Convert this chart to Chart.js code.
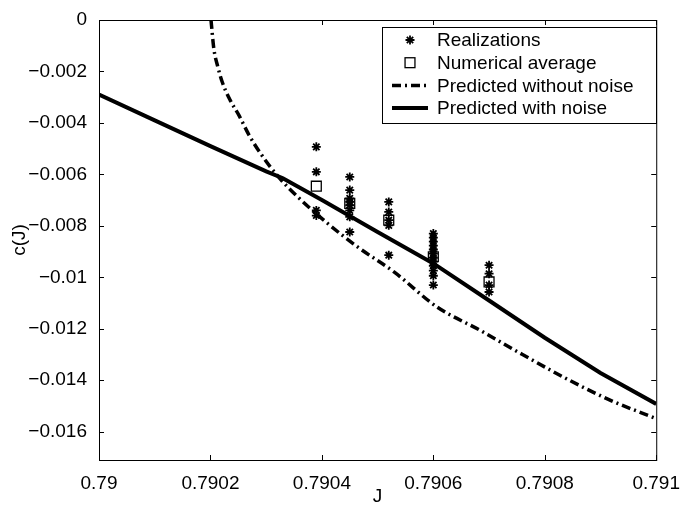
<!DOCTYPE html>
<html>
<head>
<meta charset="utf-8">
<script src="https://cdn.jsdelivr.net/npm/chart.js@4.4.1/dist/chart.umd.min.js"></script>
<style>
  html, body { margin: 0; padding: 0; background: #fff; }
  #wrap { width: 684px; height: 505px; }
</style>
</head>
<body>
<div id="wrap"><canvas id="cj" width="684" height="505"></canvas></div>
<script>
// realizations (stars)
var realJ = [0.79039, 0.79039, 0.79039, 0.79039,
             0.79045, 0.79045, 0.79045, 0.79045, 0.79045, 0.79045, 0.79045, 0.79045,
             0.79052, 0.79052, 0.79052, 0.79052, 0.79052,
             0.7906, 0.7906, 0.7906, 0.7906, 0.7906, 0.7906, 0.7906, 0.7906, 0.7906, 0.7906, 0.7906, 0.7906,
             0.7907, 0.7907, 0.7907, 0.7907];
var realC = [-0.00493, -0.0059, -0.0074, -0.0076,
             -0.0061, -0.00661, -0.00693, -0.00707, -0.0072, -0.0074, -0.00765, -0.00824,
             -0.00707, -0.00746, -0.00778, -0.00798, -0.00914,
             -0.0083, -0.00846, -0.00861, -0.00877, -0.00892, -0.00908, -0.00924, -0.00939, -0.00955, -0.00974, -0.00994, -0.0103,
             -0.00953, -0.00986, -0.0103, -0.01057];

// numerical average (squares)
var avgJ = [0.79039, 0.79045, 0.79052, 0.7906, 0.7907];
var avgC = [-0.00646, -0.00713, -0.00778, -0.0092, -0.01018];

// predicted with noise (solid)
var noiseJ = [0.79, 0.7901, 0.7902, 0.7903, 0.79033, 0.7904, 0.7905, 0.7906, 0.7907, 0.7908, 0.7909, 0.791];
var noiseC = [-0.0029, -0.0039, -0.0049, -0.00588, -0.00615, -0.0070, -0.00824, -0.00946, -0.0109, -0.01235, -0.01372, -0.01492];

// predicted without noise (dash-dot)
var cleanJ = [0.790201, 0.790206, 0.790213, 0.790221, 0.790235, 0.790251, 0.79027, 0.790292, 0.790322, 0.790357,
              0.79041, 0.790464, 0.79053, 0.790607, 0.790684, 0.79076, 0.790845, 0.79092, 0.791];
var cleanC = [0, -0.0011, -0.0018, -0.0024, -0.0031, -0.0037, -0.0045, -0.00525, -0.0061, -0.00688,
              -0.0079, -0.00882, -0.0098, -0.01116, -0.01206, -0.013, -0.01401, -0.0148, -0.01549];

var xTicks = [0.79, 0.7902, 0.7904, 0.7906, 0.7908, 0.791];
var yTicks = [0, -0.002, -0.004, -0.006, -0.008, -0.01, -0.012, -0.014, -0.016];

function pts(xs, ys) { return xs.map(function (x, i) { return {x: x, y: ys[i]}; }); }
function fmt(v) { return String(parseFloat(v.toFixed(5))).replace('-', '\u2212'); }

var FONT = 'Liberation Sans, Arial, Helvetica, sans-serif';
var FSIZE = 19;

// MATLAB style box, inward ticks on all four sides
var boxTicks = {
  id: 'boxTicks',
  afterDraw: function (chart) {
    var ctx = chart.ctx, a = chart.chartArea;
    var xs = chart.scales.x, ys = chart.scales.y;
    ctx.save();
    ctx.strokeStyle = '#000';
    ctx.lineWidth = 1;
    ctx.strokeRect(a.left + 0.5, a.top + 0.5, a.right - a.left, a.bottom - a.top);
    ctx.beginPath();
    xTicks.forEach(function (t) {
      var px = Math.round(xs.getPixelForValue(t)) + 0.5;
      ctx.moveTo(px, a.bottom); ctx.lineTo(px, a.bottom - 5);
      ctx.moveTo(px, a.top); ctx.lineTo(px, a.top + 5);
    });
    yTicks.forEach(function (t) {
      var py = Math.round(ys.getPixelForValue(t)) + 0.5;
      ctx.moveTo(a.left, py); ctx.lineTo(a.left + 5, py);
      ctx.moveTo(a.right, py); ctx.lineTo(a.right - 5, py);
    });
    ctx.stroke();
    ctx.restore();
  }
};

// legend box inside the plot, upper right
var boxLegend = {
  id: 'boxLegend',
  afterDraw: function (chart) {
    var ctx = chart.ctx;
    var bx = 382, by = 27, bw = 274, bh = 96;
    ctx.save();
    ctx.fillStyle = '#fff';
    ctx.fillRect(bx, by, bw, bh);
    ctx.strokeStyle = '#000';
    ctx.lineWidth = 1;
    ctx.strokeRect(bx + 0.5, by + 0.5, bw, bh);
    ctx.font = FSIZE + 'px ' + FONT;
    ctx.textBaseline = 'middle';
    ctx.fillStyle = '#000';
    chart.data.datasets.forEach(function (ds, i) {
      var cy = by + 13 + i * 22.7;
      var cx = 410;
      ctx.strokeStyle = '#000';
      if (ds.showLine) {
        ctx.lineWidth = ds.borderWidth;
        ctx.setLineDash(ds.borderDash || []);
        ctx.beginPath();
        ctx.moveTo(392, cy); ctx.lineTo(428, cy);
        ctx.stroke();
        ctx.setLineDash([]);
      } else if (ds.pointStyle === 'star') {
        var r = ds.pointRadius, d = r * Math.SQRT1_2;
        ctx.lineWidth = ds.pointBorderWidth;
        ctx.beginPath();
        ctx.moveTo(cx - r, cy); ctx.lineTo(cx + r, cy);
        ctx.moveTo(cx, cy - r); ctx.lineTo(cx, cy + r);
        ctx.moveTo(cx - d, cy - d); ctx.lineTo(cx + d, cy + d);
        ctx.moveTo(cx - d, cy + d); ctx.lineTo(cx + d, cy - d);
        ctx.stroke();
      } else {
        var s = ds.pointRadius * Math.SQRT1_2;
        ctx.lineWidth = ds.pointBorderWidth;
        ctx.strokeRect(cx - s, cy - s, 2 * s, 2 * s);
      }
      ctx.fillText(ds.label, 437, cy + 1);
    });
    ctx.restore();
  }
};

new Chart(document.getElementById('cj'), {
  type: 'scatter',
  data: {
    datasets: [
      {label: 'Realizations', data: pts(realJ, realC), pointStyle: 'star', pointRadius: 4.5,
       pointBorderWidth: 1.8, borderColor: '#000', backgroundColor: '#000', showLine: false},
      {label: 'Numerical average', data: pts(avgJ, avgC), pointStyle: 'rect', pointRadius: 7,
       pointBorderWidth: 1.3, borderColor: '#000', backgroundColor: 'rgba(0,0,0,0)', showLine: false},
      {label: 'Predicted without noise', data: pts(cleanJ, cleanC), showLine: true, pointRadius: 0,
       borderColor: '#000', borderWidth: 3.5, borderDash: [9, 4, 2, 4], cubicInterpolationMode: 'monotone'},
      {label: 'Predicted with noise', data: pts(noiseJ, noiseC), showLine: true, pointRadius: 0,
       borderColor: '#000', borderWidth: 4, tension: 0}
    ]
  },
  options: {
    responsive: false,
    animation: false,
    clip: true,
    layout: {padding: {top: 20, right: 23, left: 0, bottom: 0}},
    plugins: {legend: {display: false}, tooltip: {enabled: false}},
    scales: {
      x: {
        type: 'linear', min: 0.79, max: 0.791,
        grid: {display: false},
        border: {display: false},
        afterFit: function (s) { s.height = 45; },
        afterBuildTicks: function (s) { s.ticks = xTicks.map(function (v) { return {value: v}; }); },
        ticks: {padding: 4, color: '#000', font: {family: FONT, size: FSIZE}, maxRotation: 0,
                callback: function (v) { return fmt(v); }},
        title: {display: true, text: 'J', color: '#000', font: {family: FONT, size: FSIZE, lineHeight: 1},
                padding: {top: 0, bottom: -1}}
      },
      y: {
        type: 'linear', min: -0.0171, max: 0,
        grid: {display: false},
        border: {display: false},
        afterFit: function (s) { s.width = 99; },
        afterBuildTicks: function (s) { s.ticks = yTicks.map(function (v) { return {value: v}; }); },
        ticks: {padding: 4, color: '#000', font: {family: FONT, size: FSIZE},
                callback: function (v) { return fmt(v); }},
        title: {display: true, text: 'c(J)', color: '#000', font: {family: FONT, size: FSIZE, lineHeight: 1},
                padding: {top: 10, bottom: 0}}
      }
    }
  },
  plugins: [boxTicks, boxLegend]
});
</script>
</body>
</html>
